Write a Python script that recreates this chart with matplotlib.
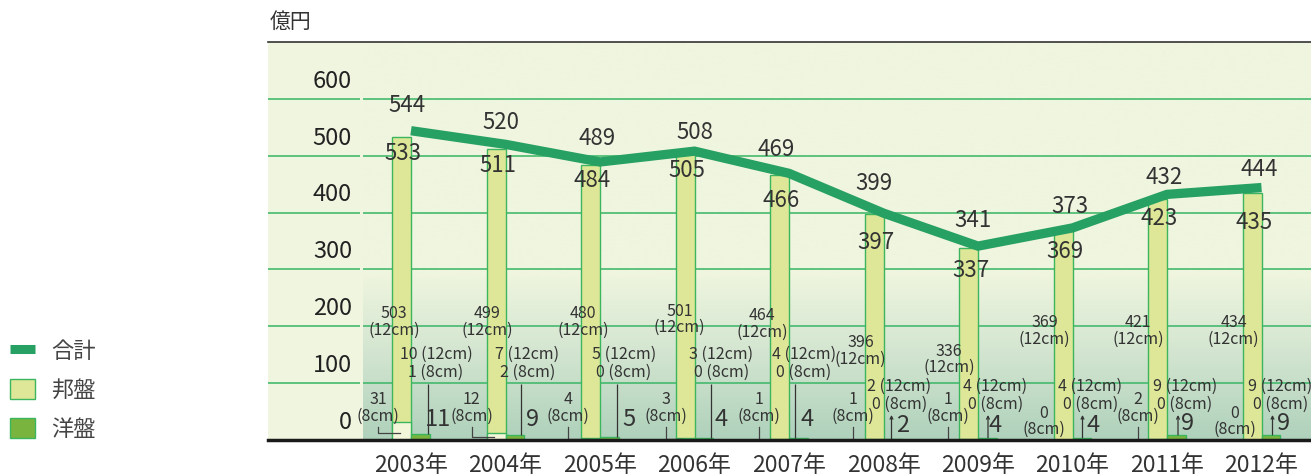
import numpy as np
import matplotlib
matplotlib.use("Agg")
import matplotlib.pyplot as plt
from matplotlib.lines import Line2D
from matplotlib.patches import Patch
from matplotlib.colors import LinearSegmentedColormap

plt.rcParams['font.family'] = ['Noto Sans CJK JP', 'DejaVu Sans']

years = [2003, 2004, 2005, 2006, 2007, 2008, 2009, 2010, 2011, 2012]
year_labels = [f"{y}年" for y in years]
total = [544, 520, 489, 508, 469, 399, 341, 373, 432, 444]
domestic = [533, 511, 484, 505, 466, 397, 337, 369, 423, 435]
foreign = [11, 9, 5, 4, 4, 2, 4, 4, 9, 9]
dom_12cm = [503, 499, 480, 501, 464, 396, 336, 369, 421, 434]
dom_8cm = [31, 12, 4, 3, 1, 1, 1, 0, 2, 0]
for_12cm = [10, 7, 5, 3, 4, 2, 4, 4, 9, 9]
for_8cm = [1, 2, 0, 0, 0, 0, 0, 0, 0, 0]
yticks = [0, 100, 200, 300, 400, 500, 600]

# label placement (x offsets in px of one category step = 94.5px, y in data units)
STEP = 94.5
total_dx = [-4, -5, -3, 0, -13, -10, -5, -3, -3, -2]
total_dy = [45, 39, 42, 33, 42, 53, 45, 38, 30, 32]
dom_dy = [29, 29, 27, 31, 44, 49, 39, 37, 34, 53]
d12_dx = [-17, -18, -17, -15, -27, -23, -29, -28, -29, -28]
d12_y = [208, 208, 208, 212, 204, 157, 142, 192, 192, 192]
f_dx = [25, 22, 24, 27, 15, 16, 17.5, 18, 18, 19]
f_y = [135, 135, 135, 135, 135, 79, 79, 79, 79, 79]
fline_dx = [17, 15, 17, 16, 6, 8, 10, 10, 11, 11]
fline_top = [99, 99, 99, 99, 99, 44, 44, 44, 44, 44]
fbig_dx = [27, 27, 29, 27, 18, 19, 17, 21, 21, 22]
fbig_y = [36, 36, 36, 36, 36, 25, 25, 25, 29, 29]
d8_dx = [-33, -34, -32, -29, -30, -31, -30, -29, -29, -27]
d8_y = [56, 56, 56, 56, 56, 56, 56, 33, 56, 33]

LINE_C = '#27a063'
DOM_C = '#dde797'
DOM8_C = '#f4f6da'
FOR_C = '#78b43e'
EDGE_C = '#3cb55f'
GRID_C = '#45b96e'
TXT = '#333333'

W, H = 1311, 475
fig = plt.figure(figsize=(W / 100, H / 100), dpi=100)
ax = fig.add_axes([268 / W, 35 / H, 1 - 268 / W, 398 / H])
xmin, xmax = (268 - 411) / STEP, (1311 - 411) / STEP
ax.set_xlim(xmin, xmax)
ax.set_ylim(0, 700)
ax.set_facecolor('#eff5df')

# gradient background behind the plot region
gx0 = (363 - 411) / STEP
grad = LinearSegmentedColormap.from_list('g', ['#afd1bb', '#d1e4cf', '#eff5df'])
vals = np.linspace(0, 700, 300)
col = np.clip(vals / 290, 0, 1)[::-1].reshape(-1, 1)
ax.imshow(col, cmap=grad, vmin=0, vmax=1, aspect='auto',
          extent=[gx0, xmax, 0, 700], zorder=0, interpolation='bilinear')

# grid lines with a gap between the label panel and the plot
gl = (360 - 411) / STEP
for v in yticks[1:]:
    ax.hlines(v, xmin, gl, color=GRID_C, lw=1.2, zorder=1)
    ax.hlines(v, gx0, xmax, color=GRID_C, lw=1.2, zorder=1)
for v in yticks:
    ax.text((352 - 411) / STEP, v + 31, str(v), ha='right', va='center',
            fontsize=17, color='#222222')

x = np.arange(len(years))
bw = 0.2
ax.bar(x - bw / 2, domestic, bw, color=DOM_C, edgecolor=EDGE_C, lw=1.0, zorder=2)
ax.bar(x - bw / 2, dom_8cm, bw, color=DOM8_C, edgecolor=EDGE_C, lw=1.0, zorder=2)
ax.bar(x + bw / 2, foreign, bw, color=FOR_C, edgecolor=EDGE_C, lw=1.0, zorder=2)
ax.plot(x, total, color=LINE_C, lw=6.7, solid_capstyle='butt', solid_joinstyle='miter', zorder=3)

for i in range(len(years)):
    ax.text(i + total_dx[i] / STEP, total[i] + total_dy[i], str(total[i]),
            ha='center', va='center', fontsize=16, color=TXT, zorder=5)
    ax.text(i - bw / 2 + 0.02, domestic[i] - dom_dy[i], str(domestic[i]),
            ha='center', va='center', fontsize=16, color=TXT, zorder=5)
    ax.text(i + d12_dx[i] / STEP, d12_y[i], f"{dom_12cm[i]}\n(12cm)",
            ha='center', va='center', fontsize=11.5, color=TXT, linespacing=0.95, zorder=5)
    ax.text(i + f_dx[i] / STEP, f_y[i], f"{for_12cm[i]} (12cm)\n{for_8cm[i]} (8cm)",
            ha='center', va='center', fontsize=11.5, color=TXT, linespacing=1.1, zorder=5)
    fx = i + fline_dx[i] / STEP
    if i >= 5:
        ax.annotate('', xy=(fx, fline_top[i]), xytext=(fx, foreign[i]),
                    arrowprops=dict(arrowstyle='->', color='#333333', lw=0.9,
                                    mutation_scale=5, shrinkA=0, shrinkB=0), zorder=4)
    else:
        ax.vlines(fx, foreign[i], fline_top[i], color='#333333', lw=0.9, zorder=4)
    ax.text(i + fbig_dx[i] / STEP, fbig_y[i], str(foreign[i]),
            ha='center', va='center', fontsize=17, color=TXT, zorder=5)
    ax.text(i + d8_dx[i] / STEP, d8_y[i], f"{dom_8cm[i]}\n(8cm)",
            ha='center', va='center', fontsize=11.5, color=TXT, linespacing=0.95, zorder=5)
    if dom_8cm[i] > 0:
        lx = i + d8_dx[i] / STEP
        ly = dom_8cm[i] * 0.38
        ax.plot([lx, lx, i - 0.12], [23, ly, ly], color='#444444', lw=0.9, zorder=4)

ax.set_xticks(x)
ax.set_xticklabels(year_labels, fontsize=16.5, color=TXT)
ax.tick_params(axis='x', length=0, pad=10)
ax.set_yticks([])
for s in ['left', 'right']:
    ax.spines[s].set_visible(False)
ax.spines['top'].set_color('#333333')
ax.spines['top'].set_linewidth(1.2)
ax.spines['bottom'].set_color('#1a1a1a')
ax.spines['bottom'].set_linewidth(2.5)
ax.spines['bottom'].set_zorder(6)

fig.text(270 / W, 1 - 22 / H, '億円', ha='left', va='center', fontsize=15, color=TXT)

handles = [Line2D([], [], color=LINE_C, lw=6.5, solid_capstyle='butt'),
           Patch(facecolor=DOM_C, edgecolor=EDGE_C, lw=1.0),
           Patch(facecolor=FOR_C, edgecolor=EDGE_C, lw=1.0)]
fig.legend(handles, ['合計', '邦盤', '洋盤'], loc='upper left',
           bbox_to_anchor=(10 / W, 1 - 340 / H), frameon=False, fontsize=16,
           handlelength=1.12, handleheight=1.0, handletextpad=0.75,
           labelspacing=0.72, borderpad=0, borderaxespad=0, labelcolor='#444444')

fig.savefig('out.png', dpi=100)
